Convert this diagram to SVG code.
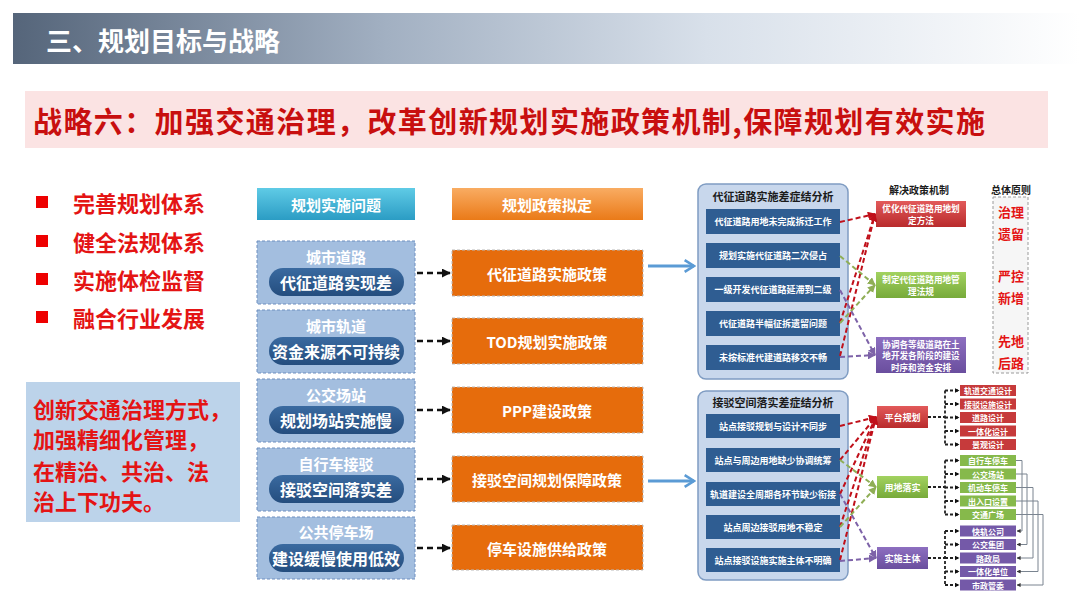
<svg xmlns="http://www.w3.org/2000/svg" width="1080" height="608" viewBox="0 0 1080 608">
<defs>
<linearGradient id="gHead" x1="0" y1="0" x2="1" y2="0">
<stop offset="0" stop-color="#55657a"/><stop offset="0.35" stop-color="#a2b0c2"/><stop offset="0.65" stop-color="#d8e0ea"/><stop offset="1" stop-color="#ffffff"/>
</linearGradient>
<linearGradient id="gTeal" x1="0" y1="0" x2="0" y2="1"><stop offset="0" stop-color="#5fcbe6"/><stop offset="1" stop-color="#2b9cc4"/></linearGradient>
<linearGradient id="gOrangeH" x1="0" y1="0" x2="0" y2="1"><stop offset="0" stop-color="#f9ac62"/><stop offset="1" stop-color="#ea7a18"/></linearGradient>
<linearGradient id="gPill" x1="0" y1="0" x2="0" y2="1"><stop offset="0" stop-color="#3a6aa0"/><stop offset="1" stop-color="#244d7e"/></linearGradient>
<linearGradient id="gRed" x1="0" y1="0" x2="0" y2="1"><stop offset="0" stop-color="#e25a5a"/><stop offset="1" stop-color="#b92b2c"/></linearGradient>
<linearGradient id="gGreen" x1="0" y1="0" x2="0" y2="1"><stop offset="0" stop-color="#a2d260"/><stop offset="1" stop-color="#77aa3a"/></linearGradient>
<linearGradient id="gPurple" x1="0" y1="0" x2="0" y2="1"><stop offset="0" stop-color="#8d6fc0"/><stop offset="1" stop-color="#6a4e9e"/></linearGradient>
<marker id="aBlack" viewBox="0 0 10 10" refX="9" refY="5" markerWidth="9" markerHeight="9" markerUnits="userSpaceOnUse" orient="auto"><path d="M0,0 L10,5 L0,10 z" fill="#111"/></marker>
<marker id="aBlackS" viewBox="0 0 10 10" refX="9" refY="5" markerWidth="5" markerHeight="5" markerUnits="userSpaceOnUse" orient="auto"><path d="M0,0 L10,5 L0,10 z" fill="#111"/></marker>
<marker id="aRed" viewBox="0 0 10 10" refX="9" refY="5" markerWidth="8" markerHeight="8" markerUnits="userSpaceOnUse" orient="auto"><path d="M0,0 L10,5 L0,10 z" fill="#c0101a"/></marker>
<marker id="aGreen" viewBox="0 0 10 10" refX="9" refY="5" markerWidth="8" markerHeight="8" markerUnits="userSpaceOnUse" orient="auto"><path d="M0,0 L10,5 L0,10 z" fill="#8fae55"/></marker>
<marker id="aPurple" viewBox="0 0 10 10" refX="9" refY="5" markerWidth="8" markerHeight="8" markerUnits="userSpaceOnUse" orient="auto"><path d="M0,0 L10,5 L0,10 z" fill="#7d62a8"/></marker>
<marker id="aBlue" viewBox="0 0 12 12" refX="10" refY="6" markerWidth="14" markerHeight="14" markerUnits="userSpaceOnUse" orient="auto"><path d="M2,1 L10,6 L2,11" fill="none" stroke="#5b9bd5" stroke-width="2.2"/></marker>
<marker id="aGray" viewBox="0 0 10 10" refX="9" refY="5" markerWidth="4" markerHeight="4" markerUnits="userSpaceOnUse" orient="auto"><path d="M0,0 L10,5 L0,10 z" fill="#333"/></marker>
</defs>
<style>
text{font-family:"Noto Sans CJK SC","Noto Sans",sans-serif;font-weight:700}
.w{fill:#fff}
.c{text-anchor:middle;dominant-baseline:central}
.l{dominant-baseline:central}
.red{fill:#e41414}
.prob{fill:#a3bedf;stroke:#6f8fbf;stroke-width:1;stroke-dasharray:3,2}
.pol{fill:#e66c0c;stroke:#b9b9b9;stroke-width:1;stroke-dasharray:3,2}
.pill{fill:url(#gPill)}
.abox{fill:#c8d7ec;stroke:#7f9cc2;stroke-width:1.5}
.item{fill:#2f5d92}
.mr{fill:url(#gRed)}
.mg{fill:url(#gGreen)}
.mp{fill:url(#gPurple)}
.lr{fill:#c63a3b}
.lg{fill:#86b94b}
.lp{fill:#7459a8}
.f15{font-size:15px}
.f10{font-size:10px}
.f9{font-size:9px}
.fm{font-size:8.6px}
.f8{font-size:8px}
.dk{fill:#1b1b1b}
.dblack{fill:none;stroke:#111;stroke-width:2.5;stroke-dasharray:6,4}
.dred{fill:none;stroke:#c0101a;stroke-width:2;stroke-dasharray:5,3}
.dgreen{fill:none;stroke:#8fae55;stroke-width:2;stroke-dasharray:5,3}
.dpurple{fill:none;stroke:#7d62a8;stroke-width:2;stroke-dasharray:5,3}
.tree{fill:none;stroke:#222;stroke-width:1.8;stroke-dasharray:3,2}
.gl{fill:none;stroke:#7a8490;stroke-width:1}
</style>
<rect width="1080" height="608" fill="#ffffff"/>

<g id="header">
<rect x="13" y="13" width="1067" height="51" fill="url(#gHead)"/>
<text x="46" y="39" class="w l" style="font-size:26px">三、规划目标与战略</text>
</g>

<g id="title-band">
<rect x="25" y="91" width="1023" height="57" fill="#fbe3e3"/>
<text x="33" y="120" class="l" style="font-size:29px;fill:#c80f0f" textLength="952" lengthAdjust="spacing">战略六：加强交通治理，改革创新规划实施政策机制,保障规划有效实施</text>
</g>

<g id="bullets">
<rect x="36" y="196" width="12" height="12" fill="#ee0000"/>
<text x="73" y="202" class="l red" style="font-size:22px">完善规划体系</text>
<rect x="36" y="235" width="12" height="12" fill="#ee0000"/>
<text x="73" y="241" class="l red" style="font-size:22px">健全法规体系</text>
<rect x="36" y="273" width="12" height="12" fill="#ee0000"/>
<text x="73" y="279" class="l red" style="font-size:22px">实施体检监督</text>
<rect x="36" y="311" width="12" height="12" fill="#ee0000"/>
<text x="73" y="317" class="l red" style="font-size:22px">融合行业发展</text>
</g>

<g id="note-box">
<rect x="26" y="382" width="214" height="140" fill="#bcd3ea"/>
<text x="33" y="408" class="l red" style="font-size:22px">创新交通治理方式，</text>
<text x="33" y="438" class="l red" style="font-size:22px">加强精细化管理，</text>
<text x="33" y="470" class="l red" style="font-size:22px">在精治、共治、法</text>
<text x="33" y="500" class="l red" style="font-size:22px">治上下功夫。</text>
</g>

<g id="hdr-problem">
<rect x="257" y="188" width="158" height="32" fill="url(#gTeal)"/>
<text x="336" y="204" class="w c f15">规划实施问题</text>
</g>
<g id="hdr-policy">
<rect x="452" y="188" width="191" height="32" fill="url(#gOrangeH)"/>
<text x="547" y="204" class="w c f15">规划政策拟定</text>
</g>

<g id="problem-1">
<rect x="257" y="241" width="158" height="63" class="prob"/>
<text x="336" y="256" class="w c f15">城市道路</text>
<rect x="269" y="268" width="135" height="28" rx="14" class="pill"/>
<text x="336" y="282" class="w c" style="font-size:16px">代征道路实现差</text>
</g>
<g id="problem-2">
<rect x="257" y="310" width="158" height="63" class="prob"/>
<text x="336" y="325" class="w c f15">城市轨道</text>
<rect x="269" y="337" width="135" height="28" rx="14" class="pill"/>
<text x="336" y="351" class="w c" style="font-size:16px">资金来源不可持续</text>
</g>
<g id="problem-3">
<rect x="257" y="379" width="158" height="63" class="prob"/>
<text x="336" y="394" class="w c f15">公交场站</text>
<rect x="269" y="406" width="135" height="28" rx="14" class="pill"/>
<text x="336" y="420" class="w c" style="font-size:16px">规划场站实施慢</text>
</g>
<g id="problem-4">
<rect x="257" y="448" width="158" height="63" class="prob"/>
<text x="336" y="463" class="w c f15">自行车接驳</text>
<rect x="269" y="475" width="135" height="28" rx="14" class="pill"/>
<text x="336" y="489" class="w c" style="font-size:16px">接驳空间落实差</text>
</g>
<g id="problem-5">
<rect x="257" y="517" width="158" height="62" class="prob"/>
<text x="336" y="531" class="w c f15">公共停车场</text>
<rect x="269" y="544" width="135" height="28" rx="14" class="pill"/>
<text x="336" y="558" class="w c" style="font-size:16px">建设缓慢使用低效</text>
</g>

<g id="policy-1"><rect x="452" y="250" width="191" height="46" class="pol"/><text x="547" y="273" class="w c f15">代征道路实施政策</text></g>
<g id="policy-2"><rect x="452" y="318" width="191" height="46" class="pol"/><text x="547" y="341" class="w c f15">TOD规划实施政策</text></g>
<g id="policy-3"><rect x="452" y="387" width="191" height="46" class="pol"/><text x="547" y="410" class="w c f15">PPP建设政策</text></g>
<g id="policy-4"><rect x="452" y="456" width="191" height="46" class="pol"/><text x="547" y="479" class="w c f15">接驳空间规划保障政策</text></g>
<g id="policy-5"><rect x="452" y="525" width="191" height="45" class="pol"/><text x="547" y="548" class="w c f15">停车设施供给政策</text></g>

<g id="analysis-1">
<rect x="698" y="184" width="150" height="195" rx="8" class="abox"/>
<text x="773" y="196" class="c dk" style="font-size:11px">代征道路实施差症结分析</text>
<rect x="706" y="209" width="134" height="25" class="item"/><text x="773" y="221.5" class="w c f9">代征道路用地未完成拆迁工作</text>
<rect x="706" y="243" width="134" height="25" class="item"/><text x="773" y="255.5" class="w c f9">规划实施代征道路二次侵占</text>
<rect x="706" y="277" width="134" height="25" class="item"/><text x="773" y="289.5" class="w c f9">一级开发代征道路延滞到二级</text>
<rect x="706" y="311" width="134" height="25" class="item"/><text x="773" y="323.5" class="w c f9">代征道路半幅征拆遗留问题</text>
<rect x="706" y="345" width="134" height="25" class="item"/><text x="773" y="357.5" class="w c f9">未按标准代建道路移交不畅</text>
</g>

<g id="analysis-2">
<rect x="698" y="391" width="150" height="189" rx="8" class="abox"/>
<text x="773" y="402" class="c dk" style="font-size:11px">接驳空间落实差症结分析</text>
<rect x="706" y="414" width="134" height="24" class="item"/><text x="773" y="426" class="w c f9">站点接驳规划与设计不同步</text>
<rect x="706" y="448" width="134" height="24" class="item"/><text x="773" y="460" class="w c f9">站点与周边用地缺少协调统筹</text>
<rect x="706" y="482" width="134" height="24" class="item"/><text x="773" y="494" class="w c f9">轨道建设全周期各环节缺少衔接</text>
<rect x="706" y="515" width="134" height="24" class="item"/><text x="773" y="527" class="w c f9">站点周边接驳用地不稳定</text>
<rect x="706" y="548" width="134" height="24" class="item"/><text x="773" y="560" class="w c f9">站点接驳设施实施主体不明确</text>
</g>

<g id="mech-title"><text x="919" y="189" class="c dk f10">解决政策机制</text></g>
<g id="mech-1"><rect x="876" y="201" width="90" height="26" class="mr"/><text x="921" y="208" class="w c fm">优化代征道路用地划</text><text x="921" y="220" class="w c fm">定方法</text></g>
<g id="mech-2"><rect x="876" y="272" width="90" height="26" class="mg"/><text x="921" y="279" class="w c fm">制定代征道路用地管</text><text x="921" y="291" class="w c fm">理法规</text></g>
<g id="mech-3"><rect x="876" y="337" width="90" height="36" class="mp"/><text x="921" y="343.5" class="w c fm">协调各等级道路在土</text><text x="921" y="355" class="w c fm">地开发各阶段的建设</text><text x="921" y="366.5" class="w c fm">时序和资金安排</text></g>

<g id="principle">
<text x="1011" y="189" class="c dk f10">总体原则</text>
<rect x="993" y="197" width="35" height="176" fill="#f6f6f6" stroke="#9a9a9a" stroke-width="1" stroke-dasharray="3,2"/>
<text x="1011" y="211" class="c red" style="font-size:13px">治理</text>
<text x="1011" y="233" class="c red" style="font-size:13px">遗留</text>
<text x="1011" y="275" class="c red" style="font-size:13px">严控</text>
<text x="1011" y="297" class="c red" style="font-size:13px">新增</text>
<text x="1011" y="340" class="c red" style="font-size:13px">先地</text>
<text x="1011" y="362" class="c red" style="font-size:13px">后路</text>
</g>

<g id="platform"><rect x="877" y="406" width="51" height="22" class="mr"/><text x="902.5" y="417" class="w c f9">平台规划</text></g>
<g id="landuse"><rect x="877" y="476" width="51" height="22" class="mg"/><text x="902.5" y="487" class="w c f9">用地落实</text></g>
<g id="actor"><rect x="877" y="547" width="51" height="22" class="mp"/><text x="902.5" y="558" class="w c f9">实施主体</text></g>

<g id="leaf-r1"><rect x="960" y="385" width="56" height="11" class="lr"/><text x="988" y="390.5" class="w c f8">轨道交通设计</text></g>
<g id="leaf-r2"><rect x="960" y="398.5" width="56" height="11" class="lr"/><text x="988" y="404" class="w c f8">接驳设施设计</text></g>
<g id="leaf-r3"><rect x="960" y="412" width="56" height="11" class="lr"/><text x="988" y="417.5" class="w c f8">道路设计</text></g>
<g id="leaf-r4"><rect x="960" y="425.5" width="56" height="11" class="lr"/><text x="988" y="431" class="w c f8">一体化设计</text></g>
<g id="leaf-r5"><rect x="960" y="439" width="56" height="11" class="lr"/><text x="988" y="444.5" class="w c f8">景观设计</text></g>

<g id="leaf-g1"><rect x="960" y="455" width="56" height="11" class="lg"/><text x="988" y="460.5" class="w c f8">自行车停车</text></g>
<g id="leaf-g2"><rect x="960" y="468.5" width="56" height="11" class="lg"/><text x="988" y="474" class="w c f8">公交场站</text></g>
<g id="leaf-g3"><rect x="960" y="482" width="56" height="11" class="lg"/><text x="988" y="487.5" class="w c f8">机动车停车</text></g>
<g id="leaf-g4"><rect x="960" y="495.5" width="56" height="11" class="lg"/><text x="988" y="501" class="w c f8">出入口设置</text></g>
<g id="leaf-g5"><rect x="960" y="509" width="56" height="11" class="lg"/><text x="988" y="514.5" class="w c f8">交通广场</text></g>

<g id="leaf-p1"><rect x="960" y="525.5" width="56" height="11" class="lp"/><text x="988" y="531" class="w c f8">快轨公司</text></g>
<g id="leaf-p2"><rect x="960" y="539" width="56" height="11" class="lp"/><text x="988" y="544.5" class="w c f8">公交集团</text></g>
<g id="leaf-p3"><rect x="960" y="552.5" width="56" height="11" class="lp"/><text x="988" y="558" class="w c f8">路政局</text></g>
<g id="leaf-p4"><rect x="960" y="566" width="56" height="11" class="lp"/><text x="988" y="571.5" class="w c f8">一体化单位</text></g>
<g id="leaf-p5"><rect x="960" y="579.5" width="56" height="11" class="lp"/><text x="988" y="585" class="w c f8">市政管委</text></g>

<g id="connectors">
<path d="M417,273 H450" class="dblack" marker-end="url(#aBlack)"/>
<path d="M417,341 H450" class="dblack" marker-end="url(#aBlack)"/>
<path d="M417,410 H450" class="dblack" marker-end="url(#aBlack)"/>
<path d="M417,479 H450" class="dblack" marker-end="url(#aBlack)"/>
<path d="M417,548 H450" class="dblack" marker-end="url(#aBlack)"/>
<path d="M648,266 H694" fill="none" stroke="#5b9bd5" stroke-width="3" marker-end="url(#aBlue)"/>
<path d="M648,481 H694" fill="none" stroke="#5b9bd5" stroke-width="3" marker-end="url(#aBlue)"/>

<path d="M840,222 L875,214" class="dred" marker-end="url(#aRed)"/>
<path d="M840,323 L875,214" class="dred" marker-end="url(#aRed)"/>
<path d="M840,356 L875,214" class="dred" marker-end="url(#aRed)"/>
<path d="M840,256 L875,285" class="dgreen" marker-end="url(#aGreen)"/>
<path d="M840,323 L875,285" class="dgreen" marker-end="url(#aGreen)"/>
<path d="M840,290 L875,355" class="dpurple" marker-end="url(#aPurple)"/>
<path d="M840,357 L875,355" class="dpurple" marker-end="url(#aPurple)"/>

<path d="M840,426 L876,417" class="dred" marker-end="url(#aRed)"/>
<path d="M840,460 L876,417" class="dred" marker-end="url(#aRed)"/>
<path d="M840,494 L876,417" class="dred" marker-end="url(#aRed)"/>
<path d="M840,527 L876,417" class="dred" marker-end="url(#aRed)"/>
<path d="M840,560 L876,417" class="dred" marker-end="url(#aRed)"/>
<path d="M840,460 L876,487" class="dgreen" marker-end="url(#aGreen)"/>
<path d="M840,527 L876,487" class="dgreen" marker-end="url(#aGreen)"/>
<path d="M840,494 L876,558" class="dpurple" marker-end="url(#aPurple)"/>
<path d="M840,561 L876,558" class="dpurple" marker-end="url(#aPurple)"/>

<path d="M928,417 H945 M945,390.5 V444.5" class="tree"/>
<path d="M945,390.5 H959" class="tree" marker-end="url(#aBlackS)"/>
<path d="M945,404 H959" class="tree" marker-end="url(#aBlackS)"/>
<path d="M945,417.5 H959" class="tree" marker-end="url(#aBlackS)"/>
<path d="M945,431 H959" class="tree" marker-end="url(#aBlackS)"/>
<path d="M945,444.5 H959" class="tree" marker-end="url(#aBlackS)"/>

<path d="M928,487 H945 M945,460.5 V514.5" class="tree"/>
<path d="M945,460.5 H959" class="tree" marker-end="url(#aBlackS)"/>
<path d="M945,474 H959" class="tree" marker-end="url(#aBlackS)"/>
<path d="M945,487.5 H959" class="tree" marker-end="url(#aBlackS)"/>
<path d="M945,501 H959" class="tree" marker-end="url(#aBlackS)"/>
<path d="M945,514.5 H959" class="tree" marker-end="url(#aBlackS)"/>

<path d="M928,558 H945 M945,531 V585" class="tree"/>
<path d="M945,531 H959" class="tree" marker-end="url(#aBlackS)"/>
<path d="M945,544.5 H959" class="tree" marker-end="url(#aBlackS)"/>
<path d="M945,558 H959" class="tree" marker-end="url(#aBlackS)"/>
<path d="M945,571.5 H959" class="tree" marker-end="url(#aBlackS)"/>
<path d="M945,585 H959" class="tree" marker-end="url(#aBlackS)"/>

<path d="M1016,460.5 H1022 V531 H1017" class="gl" marker-end="url(#aGray)"/>
<path d="M1016,474 H1027 V544.5 H1017" class="gl" marker-end="url(#aGray)"/>
<path d="M1016,487.5 H1033 V558 H1017" class="gl" marker-end="url(#aGray)"/>
<path d="M1016,501 H1038 V571.5 H1017" class="gl" marker-end="url(#aGray)"/>
<path d="M1016,514.5 H1043 V585 H1017" class="gl" marker-end="url(#aGray)"/>
</g>
</svg>
